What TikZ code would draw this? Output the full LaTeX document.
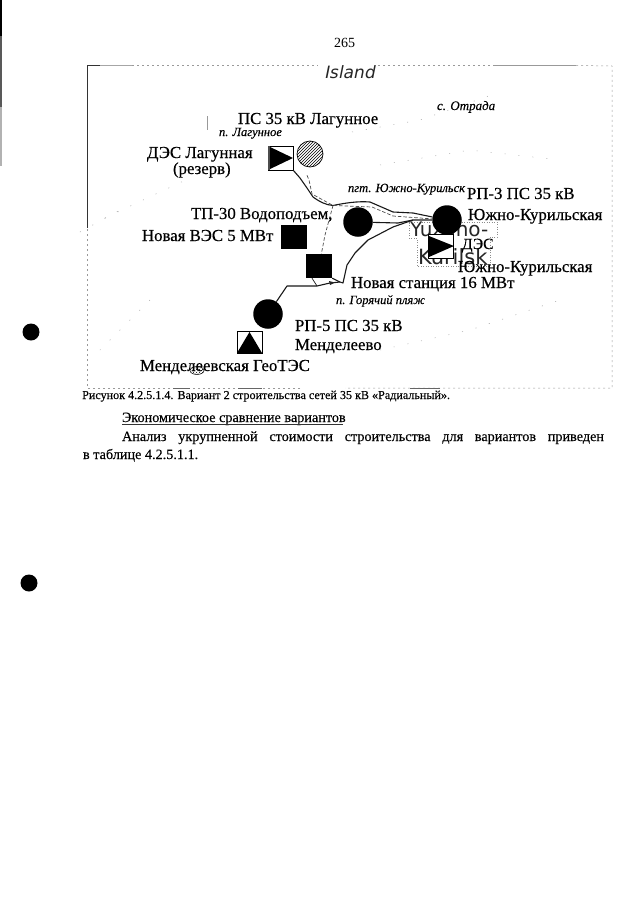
\documentclass[tikz,border=0pt]{standalone}
\usepackage{fontspec}
\setmainfont{Liberation Serif}
\newfontfamily\sansisl{DejaVu Sans}
\usetikzlibrary{patterns,shapes.geometric}
\tikzset{
  lbl/.style={anchor=base west,inner sep=0pt,outer sep=0pt,font=\fontsize{16.8}{16.8}\selectfont\addfontfeature{FakeBold=0.4},text=black},
  ital/.style={anchor=base west,inner sep=0pt,outer sep=0pt,font=\fontsize{12.5}{12.5}\selectfont\itshape\addfontfeature{FakeBold=0.3},text=black},
  body/.style={anchor=base west,inner sep=0pt,outer sep=0pt,font=\fontsize{14.2}{14.2}\selectfont\addfontfeature{FakeBold=0.3},text=black},
  overlaytext/.style={anchor=base west,inner sep=0pt,outer sep=0pt,font=\sansisl\fontsize{20}{20}\selectfont,text=black!85},
  bus/.style={circle,fill=black,inner sep=0pt,minimum size=29.5pt},
  fillsq/.style={rectangle,fill=black,inner sep=0pt,minimum size=25pt},
  whitesq/.style={rectangle,draw=black,fill=white,line width=0.8pt,inner sep=0pt,minimum width=25pt,minimum height=24pt},
  feeder/.style={draw=black!90,line width=1.1pt,line join=round},
  dfeeder/.style={draw=black!70,line width=0.7pt,dash pattern=on 3.5pt off 2pt},
  frameline/.style={draw=black!40,line width=0.5pt,dash pattern=on 2pt off 3pt},
  coast/.style={draw=black!35,line width=0.5pt,dash pattern=on 1pt off 13pt},
  speck/.style={fill=black}
}
\begin{document}
\begin{tikzpicture}[x=1pt,y=-1pt]
\useasboundingbox (0,0) rectangle (640,905);
\fill[white] (0,0) rectangle (640,905);
% scan edge and punch holes
\fill[black] (0,0) rectangle (1.5,36);
\fill[black!65] (0,36) rectangle (1.5,107);
\fill[black!30] (0,107) rectangle (1.5,166);
\fill[speck] (31,332) circle (8.5);
\fill[speck] (29,583) circle (8.5);
% frame
\draw[frameline] (132,65.5) -- (318,65.5);
\draw[frameline] (378,65.5) -- (495,65.5);
\draw[frameline] (576,65.5) -- (612,66) -- (612,388) -- (345,388);
\draw[frameline] (300,388) -- (87,388) -- (87,228);
\draw[black!80,line width=0.8pt] (87,228) -- (87,65.5) -- (100,65.5);
\draw[black!35,line width=0.8pt] (100,65.5) -- (132,65.5);
\draw[black!40,line width=1.2pt] (495,65.5) -- (576,65.5);
\draw[black!60,line width=0.8pt] (173,388) -- (190,388) (238,388) -- (262,388) (410,388) -- (440,388);
% coast fragments
\draw[black!40,line width=0.4pt] (207,116) -- (207,130);
\draw[coast] (105,218) -- (160,192) -- (190,178);
\draw[coast] (80,232) -- (120,210);
\draw[coast] (352,132) -- (420,120) -- (500,92);
\draw[coast] (380,165) -- (470,150) -- (560,160);
\draw[coast] (150,300) -- (120,330) -- (100,350);
\draw[coast] (380,350) -- (470,330) -- (560,300);
% Yuzhno-Kurilsk overlay
\node[overlaytext] (yk1) at (410,236) {Yuzhno-};
\node[overlaytext,font=\sansisl\fontsize{21}{21}\selectfont] (yk2) at (418,264) {Kurilsk};
\draw[black!45,line width=0.5pt,dash pattern=on 1pt off 1.5pt] (409,222) -- (497,222) -- (497,237) -- (490,237) -- (490,266) -- (417,266) -- (417,238) -- (409,238) -- cycle;
% equipment
\node[whitesq] (lagdes) at (280.5,158) {};
\fill[black] (269,146.5) -- (293,158) -- (269,169.5) -- cycle;
\draw[black!70,line width=1.5pt] (268.8,146) -- (268.8,170);
\node[circle,draw=black,line width=0.7pt,pattern=north east lines,inner sep=0pt,minimum size=26pt] (lagps) at (310,154) {};
\node[bus] (tp30) at (358,222) {};
\node[bus] (rp3) at (447,220) {};
\node[bus] (rp5) at (268,314) {};
\node[fillsq,minimum height=24pt,minimum width=26pt] (ves) at (294,237) {};
\node[fillsq,minimum height=24pt,minimum width=26pt] (newst) at (319,266) {};
\node[whitesq] (ykdes) at (441,246) {};
\fill[black] (429,236) -- (454,246) -- (429,257) -- cycle;
\node[whitesq,minimum height=22pt] (gtes) at (249.5,342) {};
\fill[black] (249.5,332) -- (262,353) -- (237,353) -- cycle;
% junctions
\coordinate (j1) at (333,205.5);
\coordinate (j2) at (340,282);
\coordinate (j3) at (317,286);
\coordinate (j4) at (413,213);
\coordinate (j5) at (413,220);
% solid feeders
\draw[feeder] (lagdes.south east) -- (300,178) -- (307,188) -- (313,197) .. controls (320,202) and (326,205) .. (j1) .. controls (345,203) and (358,201) .. (370,202) -- (393,212) -- (j4) -- (rp3);
\draw[feeder] (tp30) -- (398,223) -- (j5) -- (rp3);
\draw[feeder] (newst.south east) -- (j2) -- (343,283) -- (347,265) -- (355,253) -- (368,240) -- (393,227) -- (j5);
\draw[feeder] (rp5) -- (287,286) -- (j3) -- (330,283) -- (j2);
\draw[feeder,line width=0.7pt] (newst.south) ++(-7,0) -- (j3);
\fill[black!85] (335,282.5) -- (329,281) -- (330,285) -- cycle;
% dashed feeders
\draw[dfeeder] (lagps.south) ++(-3,8) -- (309,180) -- (312,194) -- (j1) -- (372,207) -- (393,216) -- (rp3);
\draw[dfeeder] (j1) -- (325,235) -- (newst);
% small speckle
\draw[black,line width=0.5pt,pattern=crosshatch dots] (197,370.5) ellipse (7 and 4);
% labels
\node[anchor=base west,inner sep=0pt,font=\fontsize{14}{14}\selectfont,text=black] (pg) at (334,47) {265};
\node[anchor=base west,inner sep=0pt,font=\sansisl\fontsize{17}{17}\selectfont\addfontfeature{FakeSlant=0.2},text=black!85] (isl) at (324,78) {Island};
\node[ital,font=\fontsize{13}{13}\selectfont\itshape\addfontfeature{FakeBold=0.3}] (otr) at (437,110) {с. Отрада};
\node[lbl] (l1) at (238,124) {ПС 35 кВ Лагунное};
\node[ital] (l2) at (219,136) {п. Лагунное};
\node[lbl] (l3) at (147,158) {ДЭС Лагунная};
\node[lbl] (l4) at (173,174) {(резерв)};
\node[lbl] (l5) at (191,219) {ТП-30 Водоподъем,};
\node[lbl] (l6) at (142,241) {Новая ВЭС 5 МВт};
\node[ital] (l7) at (348,192) {пгт. Южно-Курильск};
\node[lbl] (l8) at (467,199) {РП-3 ПС 35 кВ};
\node[lbl] (l9) at (468,220) {Южно-Курильская};
\node[lbl,font=\fontsize{15.5}{15.5}\selectfont\addfontfeature{FakeBold=0.4}] (l10) at (462,249) {ДЭС};
\node[lbl] (l11) at (458,272) {Южно-Курильская};
\node[lbl] (l12) at (351,288) {Новая станция 16 МВт};
\node[ital] (l13) at (336,304) {п. Горячий пляж};
\node[lbl] (l14) at (295,331) {РП-5 ПС 35 кВ};
\node[lbl] (l15) at (295,350) {Менделеево};
\node[lbl] (l16) at (140,371) {Менделеевская ГеоТЭС};
% body text
\node[anchor=base west,inner sep=0pt,font=\fontsize{12.1}{12.1}\selectfont\addfontfeature{FakeBold=0.2},text=black] (cap) at (82,399) {Рисунок 4.2.5.1.4. Вариант 2 строительства сетей 35 кВ «Радиальный».};
\node[body] (t1) at (122,422) {Экономическое сравнение вариантов};
\draw[black!80,line width=0.6pt] (t1.base west) ++(0,2) -- ++(221,0);
\node[body] (t2) at (122,441) {\makebox[482pt][s]{Анализ укрупненной стоимости строительства для вариантов приведен}};
\node[body] (t3) at (83,459) {в таблице 4.2.5.1.1.};
\end{tikzpicture}
\end{document}
